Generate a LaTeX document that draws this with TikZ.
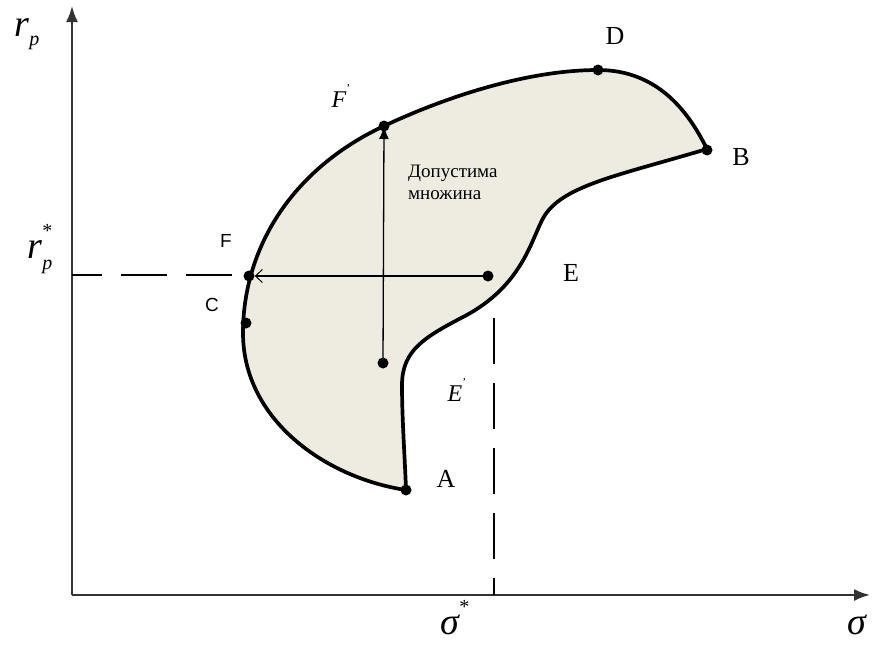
\documentclass[tikz,border=0pt]{standalone}
\usepackage{fontspec}
\setmainfont{Liberation Serif}
\setsansfont{Liberation Sans}
\usetikzlibrary{arrows.meta}
\definecolor{regionfill}{HTML}{EEECE1}
\newcommand{\subsz}{\fontsize{20}{20}\selectfont}
\newcommand{\primesz}{\fontsize{12}{12}\selectfont}
\begin{document}
\begin{tikzpicture}[x=1pt,y=-1pt,
  dot/.style={circle,fill=black,inner sep=0pt,minimum size=11pt},
  axisline/.style={line width=2pt,black!80,-{Latex[length=16pt,width=12pt]}},
  dashline/.style={line width=1.3pt,dash pattern=on 46pt off 19pt},
  thinline/.style={line width=1.3pt},
  mathlbl/.style={font=\fontsize{38}{40}\selectfont\itshape,inner sep=0pt},
  ptlbl/.style={font=\fontsize{26}{28}\selectfont,inner sep=0pt},
  primelbl/.style={font=\fontsize{24}{26}\selectfont\itshape,inner sep=0pt},
  sanslbl/.style={font=\sffamily\fontsize{19}{21}\selectfont,inner sep=0pt},
  note/.style={font=\fontsize{19}{22}\selectfont,align=left,inner sep=0pt}
]
\useasboundingbox (0,0) rectangle (873,645);

% admissible region
\filldraw[fill=regionfill,line width=3.7pt,line join=round]
  (406,490) .. controls (326,478) and (243,420) .. (243,333)
  .. controls (243,250) and (290,170) .. (384,126)
  .. controls (450,95) and (530,70) .. (598,70)
  .. controls (660,70) and (690,115) .. (707,149)
  .. controls (620,175) and (565,185) .. (545,215)
  .. controls (532,235) and (525,285) .. (463,317)
  .. controls (425,337) and (402,350) .. (402,385)
  .. controls (402,420) and (405,460) .. (406,490)
  -- cycle;

% axes
\coordinate (origin) at (72,595);
\coordinate (ytop) at (72,6);
\coordinate (xend) at (870,595);
\draw[axisline] (origin) -- (ytop);
\draw[axisline] (origin) -- (xend);

% points
\node[dot] (A) at (406,490) {};
\node[dot] (B) at (707,150) {};
\node[dot] (D) at (598,70) {};
\node[dot] (Fp) at (384,126) {};
\node[dot] (F) at (249,276) {};
\node[dot] (C) at (246,323) {};
\node[dot] (E) at (488,276) {};
\node[dot] (O) at (383,363) {};

% dashed guides
\coordinate (hstart) at (232,275);
\coordinate (hend) at (72,275);
\draw[dashline] (hstart) -- (hend);
\coordinate (vstart) at (494,318);
\coordinate (vend) at (494,595);
\draw[dashline] (vstart) -- (vend);

% arrows
\draw[thinline,-{Latex[length=13pt,width=10pt]}] (O.center) -- (Fp.center);
\draw[thinline,-{Straight Barb[length=7pt,width=13pt,line width=1pt]}] (E.center) -- (F.east);

% labels
\node[mathlbl] (lrp) at (27,34) {r\raisebox{-0.25em}{\subsz p}};
\node[mathlbl] (lrps) at (40,249) {r\makebox[0pt][l]{\raisebox{0.55em}{\subsz\upshape *}}\raisebox{-0.3em}{\subsz p}};
\node[mathlbl] (lsigs) at (455,618) {σ\raisebox{0.55em}{\subsz\upshape *}};
\node[mathlbl] (lsig) at (857,625) {σ};
\node[primelbl] (lFp) at (341,96) {F\raisebox{0.6em}{\primesz\upshape '}};
\node[primelbl] (lEp) at (457,390) {E\raisebox{0.6em}{\primesz\upshape '}};
\node[ptlbl] (lD) at (615,36) {D};
\node[ptlbl] (lB) at (741,157) {B};
\node[ptlbl] (lE) at (571,273) {E};
\node[ptlbl] (lA) at (446,479) {A};
\node[sanslbl] (lF) at (226,241) {F};
\node[sanslbl] (lC) at (212,305) {C};
\node[note,anchor=north west] (lset) at (408,165) {Допустима\\множина};
\end{tikzpicture}
\end{document}
